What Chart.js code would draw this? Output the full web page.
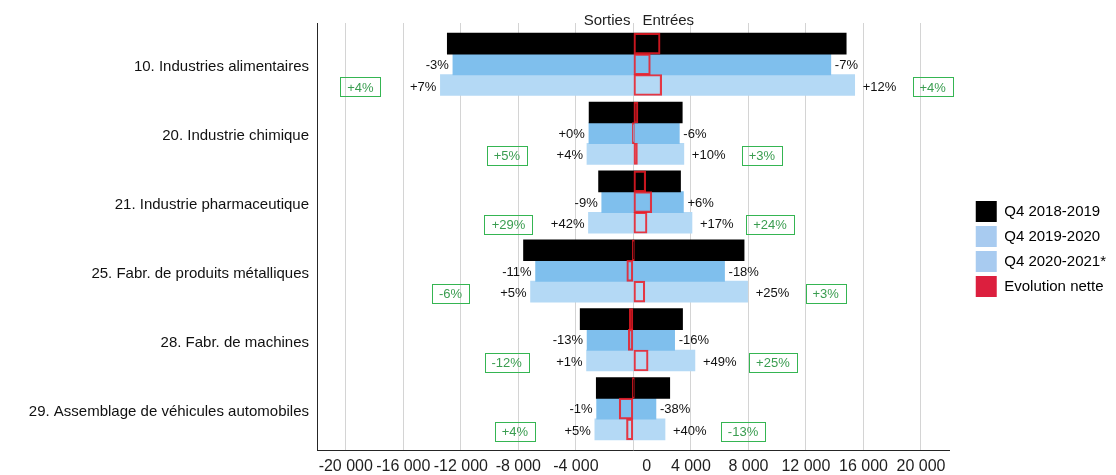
<!DOCTYPE html>
<html lang="fr">
<head>
<meta charset="utf-8">
<title>Sorties et entrées par branche</title>
<script src="https://cdn.jsdelivr.net/npm/chart.js@4.4.1/dist/chart.umd.min.js"></script>
<style>
  html, body { margin: 0; padding: 0; background: #ffffff; }
  #wrap { width: 1116px; height: 475px; }
</style>
</head>
<body>
<div id="wrap"><canvas id="chart" width="1116" height="475"></canvas></div>
<script>
// Branches shown on the vertical axis
const categories = [
  '10. Industries alimentaires',
  '20. Industrie chimique',
  '21. Industrie pharmaceutique',
  '25. Fabr. de produits métalliques',
  '28. Fabr. de machines',
  '29. Assemblage de véhicules automobiles'
];

const periods = ['Q4 2018-2019', 'Q4 2019-2020', 'Q4 2020-2021*'];

// Sorties (drawn to the left of zero) per period
const sorties1819 = [12940, 3080, 2420, 7640, 3700, 2580];
const sorties1920 = [12550, 3092, 2200, 6800, 3220, 2555];
const sorties2021 = [13420, 3228, 3125, 7150, 3255, 2680];

// Entrées (drawn to the right of zero) per period
const entrees1819 = [14800, 3400, 3280, 7700, 3420, 2530];
const entrees1920 = [13730, 3196, 3480, 6340, 2870, 1570];
const entrees2021 = [15390, 3510, 4075, 7945, 4280, 2200];

const xTicks = [-20000, -16000, -12000, -8000, -4000, 0, 4000, 8000, 12000, 16000, 20000];

const FONT = '"Liberation Sans", Arial, Helvetica, sans-serif';
const ROW = 0.3;                      // offset of the three period rows inside a branch
const rowOffsets = [-ROW, 0, ROW];
const barColors = ['#000000', '#7fbfed', '#b4d9f5'];
const legendColors = ['#000000', '#a8cbf0', '#a8cbf0'];
const netLegendColor = '#dc1f3e';

const sorties = [sorties1819, sorties1920, sorties2021];
const entrees = [entrees1819, entrees1920, entrees2021];

function change(now, before) {
  const p = Math.round((now / before - 1) * 100);
  return (p < 0 ? '-' : '+') + Math.abs(p) + '%';
}

function formatTick(v) {
  if (v === 0) return '      0';     // zero label sits a little right of its gridline
  const s = Math.abs(v).toString().replace(/\B(?=(\d{3})+(?!\d))/g, ' ');
  return (v < 0 ? '-' : '') + s;
}

const periodSets = periods.map((label, p) => ({
  label,
  data: categories.map((_, i) => ({ x: [-sorties[p][i], entrees[p][i]], y: i + rowOffsets[p] })),
  backgroundColor: barColors[p],
  borderWidth: 0,
  barThickness: 21,
  grouped: false,
  order: 2
}));

const netSet = {
  label: 'Evolution nette',
  data: periods.flatMap((_, p) => categories.map((_, i) => ({
    x: [0, entrees[p][i] - sorties[p][i]],
    y: i + rowOffsets[p]
  }))),
  backgroundColor: 'rgba(0,0,0,0)',
  borderColor: 'rgba(236, 26, 36, 0.85)',
  borderWidth: 1.5,
  borderSkipped: false,
  barThickness: 21,
  minBarLength: 2,
  grouped: false,
  order: 1
};

function barBounds(el) {
  const { x, base, y } = el.getProps(['x', 'base', 'y'], true);
  return { left: Math.min(x, base), right: Math.max(x, base), y };
}

function boxedLabel(ctx, text, cx, cy) {
  const w = Math.round(ctx.measureText(text).width + 14);
  const h = 19;
  ctx.strokeStyle = '#35b552';
  ctx.lineWidth = 1;
  ctx.strokeRect(Math.round(cx - w / 2) + 0.5, Math.round(cy - h / 2) + 0.5, w, h);
  ctx.fillStyle = '#3a9d50';
  ctx.textAlign = 'center';
  ctx.fillText(text, cx, cy + 1);
}

// Header above the zero line and the percentage labels around the bars
const annotations = {
  id: 'annotations',
  afterDatasetsDraw(chart) {
    const { ctx } = chart;
    const x0 = chart.scales.x.getPixelForValue(0);
    ctx.save();
    ctx.font = '15px ' + FONT;
    ctx.fillStyle = '#222222';
    ctx.textBaseline = 'alphabetic';
    ctx.textAlign = 'right';
    ctx.fillText('Sorties', x0 - 3, 25);
    ctx.textAlign = 'left';
    ctx.fillText('Entrées', x0 + 9, 25);

    const mid = chart.getDatasetMeta(1).data;
    const last = chart.getDatasetMeta(2).data;
    ctx.font = '13px ' + FONT;
    ctx.textBaseline = 'middle';
    categories.forEach((_, i) => {
      const b1 = barBounds(mid[i]);
      const b2 = barBounds(last[i]);
      ctx.fillStyle = '#111111';
      ctx.textAlign = 'right';
      ctx.fillText(change(sorties1920[i], sorties1819[i]), b1.left - 4, b1.y + 1);
      ctx.fillText(change(sorties2021[i], sorties1920[i]), b2.left - 4, b2.y + 2);
      ctx.textAlign = 'left';
      ctx.fillText(change(entrees1920[i], entrees1819[i]), b1.right + 4, b1.y + 1);
      ctx.fillText(change(entrees2021[i], entrees1920[i]), b2.right + 8, b2.y + 2);

      boxedLabel(ctx, change(sorties2021[i], sorties1819[i]), b2.left - 80, b2.y + 2);
      boxedLabel(ctx, change(entrees2021[i], entrees1819[i]), b2.right + 78, b2.y + 2);
    });
    ctx.restore();
  }
};

new Chart(document.getElementById('chart'), {
  type: 'bar',
  data: { datasets: [...periodSets, netSet] },
  options: {
    indexAxis: 'y',
    responsive: false,
    devicePixelRatio: 1,
    animation: false,
    events: [],
    layout: { padding: { top: 23, right: 0, bottom: 0, left: 0 } },
    scales: {
      x: {
        type: 'linear',
        min: -22000,
        max: 22000,
        afterBuildTicks: (s) => { s.ticks = xTicks.map((v) => ({ value: v })); },
        afterFit: (s) => { s.height = 25; },
        grid: { color: '#d4d4d4', lineWidth: 1, drawTicks: false },
        border: { display: true, color: '#262626', width: 1 },
        ticks: {
          padding: 7,
          color: '#1f1f1f',
          font: { family: FONT, size: 16 },
          maxRotation: 0,
          autoSkip: false,
          callback: (v) => formatTick(v)
        }
      },
      y: {
        type: 'linear',
        reverse: true,
        offset: false,
        min: -0.6,
        max: 5.6,
        afterBuildTicks: (s) => { s.ticks = categories.map((_, i) => ({ value: i })); },
        afterFit: (s) => { s.width = 317; },
        grid: { display: false, drawTicks: false },
        border: { display: true, color: '#262626', width: 1 },
        ticks: {
          padding: 8,
          labelOffset: 3,
          color: '#111111',
          font: { family: FONT, size: 15 },
          autoSkip: false,
          callback: (v) => categories[v]
        }
      },
      gap: {
        type: 'linear',
        position: 'right',
        display: true,
        grid: { display: false, drawTicks: false },
        border: { display: false },
        ticks: { display: false },
        afterFit: (s) => { s.width = 22; }
      }
    },
    plugins: {
      tooltip: { enabled: false },
      legend: {
        position: 'right',
        align: 'center',
        labels: {
          boxWidth: 21,
          boxHeight: 21,
          padding: 4,
          color: '#404040',
          font: { family: FONT, size: 15 },
          generateLabels: () => [
            ...periods.map((text, p) => ({
              text, fillStyle: legendColors[p], strokeStyle: legendColors[p],
              lineWidth: 0, hidden: false, datasetIndex: p
            })),
            { text: 'Evolution nette', fillStyle: netLegendColor, strokeStyle: netLegendColor,
              lineWidth: 0, hidden: false, datasetIndex: 3 }
          ]
        }
      }
    }
  },
  plugins: [annotations]
});
</script>
</body>
</html>
